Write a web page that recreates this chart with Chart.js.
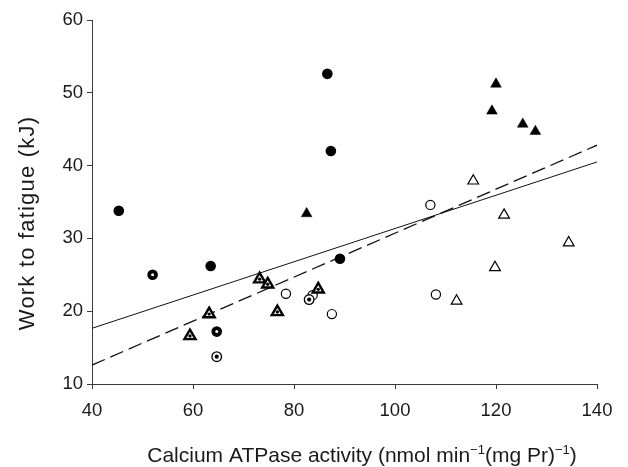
<!DOCTYPE html>
<html>
<head>
<meta charset="utf-8">
<script src="https://cdn.jsdelivr.net/npm/chart.js@4/dist/chart.umd.min.js"></script>
<style>
html,body{margin:0;padding:0;background:#fff;}
#wrap{width:628px;height:467px;}
</style>
</head>
<body>
<div id="wrap"><canvas id="c" width="628" height="467"></canvas></div>
<script>
// ---- data ----
const xTicks = [40, 60, 80, 100, 120, 140];
const yTicks = [10, 20, 30, 40, 50, 60];

const filledCircles = [[45.3,33.8],[63.5,26.2],[86.6,52.6],[87.3,42.0],[89.1,27.2]];
const openCircles   = [[78.4,22.4],[87.5,19.6],[107.0,34.6],[108.1,22.3],[83.7,22.2]];
const filledTriangles = [[82.5,33.4],[120.0,51.2],[119.2,47.5],[125.3,45.7],[127.8,44.7]];
const openTriangles = [[115.5,37.9],[121.6,33.2],[134.4,29.4],[119.8,26.0],[112.2,21.4]];
const boldRingCircles = [[52.0,25.0],[64.7,17.2]];
const ringDotCircles = [[64.7,13.75],[83.0,21.6]];
const dottedTriangles = [[59.4,16.6],[63.2,19.6],[73.2,24.4],[74.8,23.7],[84.8,23.0],[76.7,19.9]];

const solidFit  = [[40,17.65],[140,40.5]];
const dashedFit = [[40,12.6],[140,42.8]];

const xTitleParts = [["Calcium ATPase activity (nmol min",false],["\u22121",true],["(mg Pr)",false],["\u22121",true],[")",false]];
const yTitle = "Work to fatigue (kJ)";

// ---- helpers ----
const pts = a => a.map(p => ({x:p[0], y:p[1]}));
const FONT = "'Liberation Sans', Arial, Helvetica, sans-serif";

const titlesPlugin = {
  id:'titles',
  afterDraw(chart){
    const ctx = chart.ctx;
    ctx.save();
    ctx.fillStyle = '#1a1a1a';
    // x title with superscripts
    const big = "21px " + FONT, small = "13px " + FONT;
    let total = 0;
    xTitleParts.forEach(([t,sup]) => { ctx.font = sup ? small : big; total += ctx.measureText(t).width; });
    let x = 362 - total/2;
    const base = 462;
    ctx.textBaseline = 'alphabetic';
    ctx.textAlign = 'left';
    xTitleParts.forEach(([t,sup]) => {
      ctx.font = sup ? small : big;
      ctx.fillText(t, x, sup ? base - 8 : base);
      x += ctx.measureText(t).width;
    });
    // y title
    ctx.translate(28, 223);
    ctx.rotate(-Math.PI/2);
    ctx.font = "22px " + FONT;
    try { ctx.letterSpacing = '1.2px'; } catch(e) {}
    ctx.textAlign = 'center';
    ctx.textBaseline = 'middle';
    ctx.fillText(yTitle, 0, 0);
    ctx.restore();
  }
};

const axisColor = '#3a3a3a';

new Chart(document.getElementById('c'), {
  type: 'scatter',
  data: {
    datasets: [
      { type:'line', data: pts(solidFit), borderColor:'#111', borderWidth:1, pointRadius:0, fill:false, order:20 },
      { type:'line', data: pts(dashedFit), borderColor:'#111', borderWidth:1.3, borderDash:[14,6], pointRadius:0, fill:false, order:20 },
      { data: pts(filledCircles), pointStyle:'circle', pointRadius:5.3, backgroundColor:'#000', borderColor:'#000', borderWidth:0, order:5 },
      { data: pts(openCircles), pointStyle:'circle', pointRadius:4.6, backgroundColor:'#fff', borderColor:'#000', borderWidth:1.2, order:5 },
      { data: pts(filledTriangles), pointStyle:'triangle', pointRadius:6.2, backgroundColor:'#000', borderColor:'#000', borderWidth:0.5, order:5 },
      { data: pts(openTriangles), pointStyle:'triangle', pointRadius:6.2, backgroundColor:'#fff', borderColor:'#000', borderWidth:1.2, order:5 },
      { data: pts(boldRingCircles), pointStyle:'circle', pointRadius:5.3, backgroundColor:'#000', borderColor:'#000', borderWidth:0, order:4 },
      { data: pts(boldRingCircles), pointStyle:'circle', pointRadius:1.5, backgroundColor:'#fff', borderWidth:0, order:1 },
      { data: pts(ringDotCircles), pointStyle:'circle', pointRadius:4.8, backgroundColor:'#fff', borderColor:'#000', borderWidth:1.3, order:4 },
      { data: pts(ringDotCircles), pointStyle:'circle', pointRadius:2.1, backgroundColor:'#000', borderWidth:0, order:1 },
      { data: pts(dottedTriangles), pointStyle:'triangle', pointRadius:6.4, backgroundColor:'#fff', borderColor:'#000', borderWidth:2.4, order:4 },
      { data: pts(dottedTriangles), pointStyle:'circle', pointRadius:1.7, backgroundColor:'#000', borderWidth:0, order:1 }
    ]
  },
  options: {
    responsive:false,
    animation:false,
    devicePixelRatio:1,
    events:[],
    layout:{ padding:{ left:0, top:20, right:31, bottom:0 } },
    plugins:{ legend:{display:false}, tooltip:{enabled:false}, title:{display:false} },
    scales:{
      x:{
        type:'linear', min:40, max:140,
        afterBuildTicks: s => { s.ticks = xTicks.map(v => ({value:v})); },
        afterFit: s => { s.height = 83; },
        grid:{ display:true, drawOnChartArea:false, drawTicks:true, tickLength:5, color:axisColor, lineWidth:1 },
        border:{ display:true, color:axisColor, width:1 },
        ticks:{ font:{ family:FONT, size:18.5 }, color:'#1a1a1a', padding:11, maxRotation:0 }
      },
      y:{
        type:'linear', min:10, max:60,
        afterBuildTicks: s => { s.ticks = yTicks.map(v => ({value:v})); },
        afterFit: s => { s.width = 92; },
        grid:{ display:true, drawOnChartArea:false, drawTicks:true, tickLength:5, color:axisColor, lineWidth:1 },
        border:{ display:true, color:axisColor, width:1 },
        ticks:{ font:{ family:FONT, size:18.5 }, color:'#1a1a1a', padding:4 }
      }
    }
  },
  plugins:[titlesPlugin]
});
</script>
</body>
</html>
